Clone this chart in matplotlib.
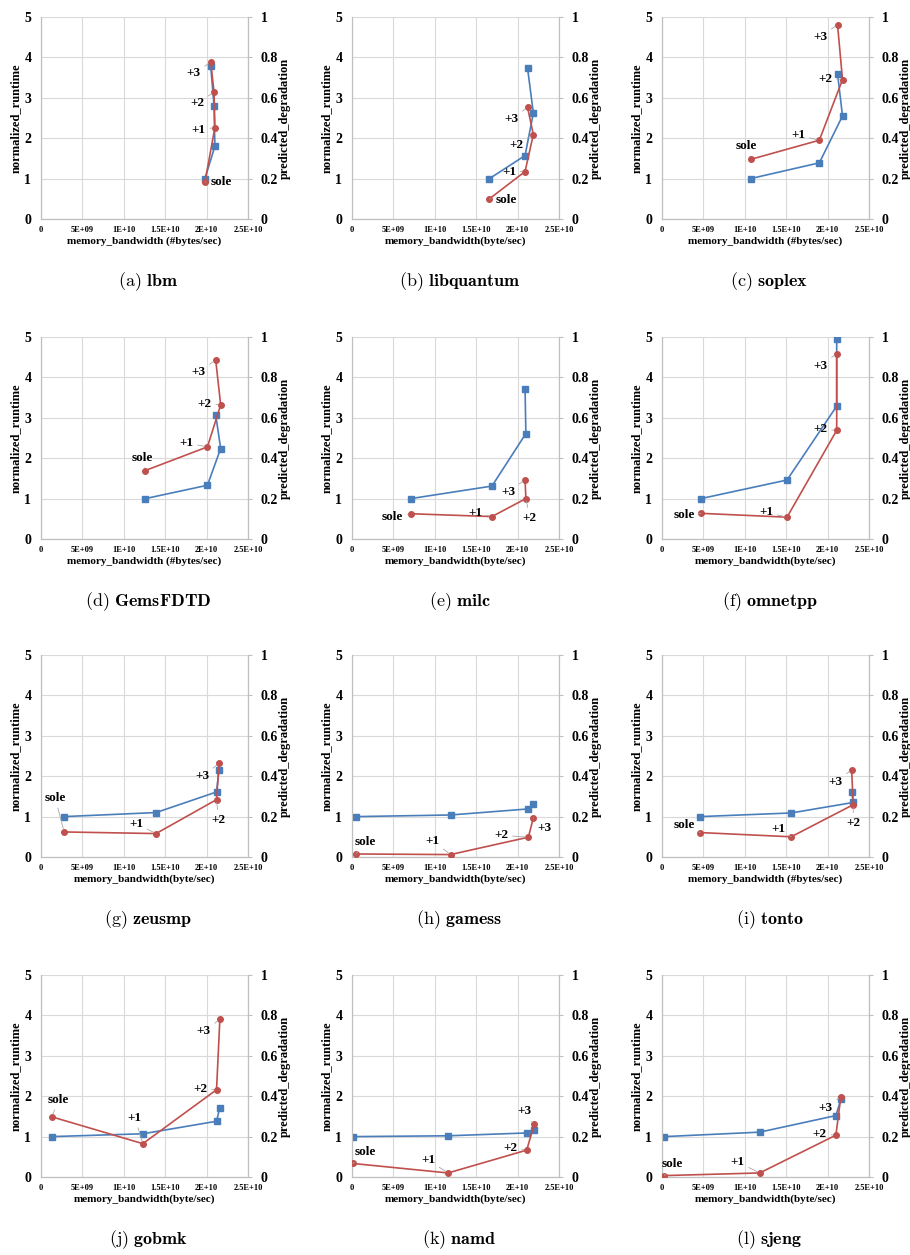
import numpy as np
import matplotlib
matplotlib.use('Agg')
import matplotlib.pyplot as plt

plt.rcParams['mathtext.fontset'] = 'cm'

# benchmark names, panel tags and x-axis titles
names = ['lbm', 'libquantum', 'soplex', 'GemsFDTD', 'milc', 'omnetpp',
         'zeusmp', 'gamess', 'tonto', 'gobmk', 'namd', 'sjeng']
tags = ['a', 'b', 'c', 'd', 'e', 'f', 'g', 'h', 'i', 'j', 'k', 'l']
xlab_a = 'memory_bandwidth (#bytes/sec)'
xlab_b = 'memory_bandwidth(byte/sec)'
xlabels = [xlab_a, xlab_b, xlab_a, xlab_a, xlab_b, xlab_b,
           xlab_b, xlab_b, xlab_a, xlab_b, xlab_b, xlab_b]
points = ['sole', '+1', '+2', '+3']

# memory bandwidth (units of 1E10 bytes/sec) for sole, +1, +2, +3
bandwidth = [
    [1.98, 2.10, 2.09, 2.05],
    [1.66, 2.09, 2.19, 2.12],
    [1.07, 1.90, 2.18, 2.12],
    [1.26, 2.01, 2.17, 2.11],
    [0.71, 1.69, 2.10, 2.09],
    [0.47, 1.51, 2.11, 2.11],
    [0.28, 1.39, 2.12, 2.15],
    [0.05, 1.19, 2.13, 2.19],
    [0.46, 1.56, 2.31, 2.29],
    [0.13, 1.23, 2.12, 2.16],
    [0.01, 1.16, 2.11, 2.20],
    [0.03, 1.18, 2.10, 2.16],
]
# normalized runtime (left axis)
runtime = [
    [1.00, 1.80, 2.80, 3.78],
    [1.00, 1.57, 2.62, 3.74],
    [1.00, 1.39, 2.55, 3.60],
    [1.00, 1.33, 2.24, 3.07],
    [1.00, 1.31, 2.61, 3.71],
    [1.00, 1.46, 3.29, 4.95],
    [1.00, 1.10, 1.61, 2.15],
    [1.00, 1.04, 1.19, 1.32],
    [1.00, 1.09, 1.35, 1.62],
    [1.00, 1.07, 1.38, 1.72],
    [1.00, 1.02, 1.09, 1.17],
    [1.00, 1.11, 1.52, 1.92],
]
# predicted degradation (right axis)
degradation = [
    [0.183, 0.452, 0.628, 0.776],
    [0.100, 0.235, 0.418, 0.553],
    [0.295, 0.390, 0.690, 0.962],
    [0.339, 0.456, 0.664, 0.886],
    [0.125, 0.111, 0.200, 0.293],
    [0.127, 0.108, 0.538, 0.918],
    [0.124, 0.116, 0.284, 0.463],
    [0.015, 0.012, 0.098, 0.193],
    [0.121, 0.100, 0.259, 0.431],
    [0.298, 0.165, 0.432, 0.780],
    [0.067, 0.020, 0.133, 0.260],
    [0.007, 0.020, 0.207, 0.397],
]

# label offsets (pixels) from the red points
label_off = [
    [(16, 0), (-16, -2), (-17, -11), (-17, -11)],
    [(17, -1), (-16, 0), (-17, -10), (-16, -12)],
    [(-4, 13), (-21, 5), (-17, 1), (-17, -12)],
    [(-3, 13), (-21, 4), (-16, 1), (-17, -12)],
    [(-18, -3), (-17, 4), (4, -19), (-17, -12)],
    [(-17, -2), (-21, 5), (-16, 1), (-16, -12)],
    [(-9, 34), (-20, 10), (2, -20), (-17, -13)],
    [(9, 12), (-18, 14), (-27, 2), (11, -10)],
    [(-16, 8), (-13, 8), (0, -18), (-16, -12)],
    [(7, 17), (-8, 26), (-16, 1), (-16, -12)],
    [(12, 11), (-20, 13), (-16, 2), (-10, 13)],
    [(8, 12), (-22, 11), (-16, 1), (-15, -11)],
]

W, H = 910, 1255
col_left = [41, 352, 662]
col_w = 207
row_top = [17, 337, 655, 975]
row_h = 202

blue = '#4A7EBB'
red = '#C0504D'
grid_c = '#D9D9D9'
spine_c = '#BFBFBF'
tfont = 'Liberation Serif'

fig = plt.figure(figsize=(W / 100, H / 100), dpi=100)

for i in range(12):
    r, c = divmod(i, 3)
    l, t = col_left[c], row_top[r]
    ax = fig.add_axes([l / W, 1 - (t + row_h) / H, col_w / W, row_h / H])
    ax2 = ax.twinx()

    x = np.array(bandwidth[i]) * 1e10
    ax.plot(x, runtime[i], color=blue, marker='s', ms=4.5, lw=1.2, zorder=3)
    ax2.plot(x, degradation[i], color=red, marker='o', ms=4, lw=1.2, zorder=3)

    ax.set_xlim(0, 2.5e10)
    ax.set_ylim(0, 5)
    ax2.set_ylim(0, 1)
    ax.set_xticks(np.arange(0, 2.6e10, 5e9))
    ax.set_xticklabels(['0', '5E+09', '1E+10', '1.5E+10', '2E+10', '2.5E+10'],
                       fontsize=6, fontweight='bold', family=tfont)
    ax.set_yticks(range(6))
    ax.set_yticklabels([str(v) for v in range(6)], fontsize=10,
                       fontweight='bold', family=tfont)
    ax2.set_yticks([0, 0.2, 0.4, 0.6, 0.8, 1])
    ax2.set_yticklabels(['0', '0.2', '0.4', '0.6', '0.8', '1'], fontsize=10,
                        fontweight='bold', family=tfont)

    ax.grid(True, color=grid_c, lw=0.8)
    ax.set_axisbelow(True)
    for a in (ax, ax2):
        a.spines['top'].set_visible(False)
        for s in ('left', 'right', 'bottom'):
            a.spines[s].set_color(spine_c)
            a.spines[s].set_linewidth(0.8)
    ax.tick_params(axis='y', length=0, pad=7)
    ax.tick_params(axis='x', length=0, pad=5)
    ax2.tick_params(axis='y', length=3, color=spine_c, pad=6)

    ax.set_ylabel('normalized_runtime', fontsize=9, fontweight='bold',
                  family=tfont)
    ax.yaxis.set_label_coords(-0.121, 0.5)
    ax.yaxis.label.set_va('center')
    ax2.set_ylabel('predicted_degradation', fontsize=9, fontweight='bold',
                   family=tfont)
    ax2.yaxis.set_label_coords(1.179, 0.5)
    ax2.yaxis.label.set_va('center')
    ax.set_xlabel(xlabels[i], fontsize=8, fontweight='bold', family=tfont)
    ax.xaxis.set_label_coords(0.5, -0.109)
    ax.xaxis.label.set_va('center')

    for j, lab in enumerate(points):
        dx, dy = label_off[i][j]
        ax2.annotate(lab, (x[j], degradation[i][j]), xytext=(dx, dy),
                     textcoords='offset pixels', ha='center', va='center',
                     fontsize=9.5, fontweight='bold', family=tfont, zorder=5,
                     arrowprops=dict(arrowstyle='-', color='#A6A6A6', lw=0.6,
                                     shrinkA=1, shrinkB=2))

    cx = l + col_w / 2 + 4
    fig.text(cx / W, 1 - (t + row_h + 63) / H,
             r'$\mathrm{(%s)}\ \mathbf{%s}$' % (tags[i], names[i]),
             ha='center', va='center', fontsize=13)

fig.savefig('out.png', dpi=100)
